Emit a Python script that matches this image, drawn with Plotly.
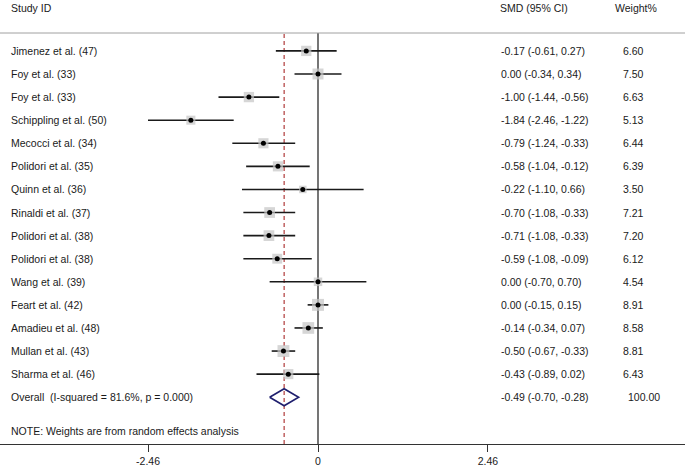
import plotly.graph_objects as go

studies = ["Jimenez et al. (47)", "Foy et al. (33)", "Foy et al. (33)", "Schippling et al. (50)",
           "Mecocci et al. (34)", "Polidori et al. (35)", "Quinn et al. (36)", "Rinaldi et al. (37)",
           "Polidori et al. (38)", "Polidori et al. (38)", "Wang et al. (39)", "Feart et al. (42)",
           "Amadieu et al. (48)", "Mullan et al. (43)", "Sharma et al. (46)"]
smd = [-0.17, 0.00, -1.00, -1.84, -0.79, -0.58, -0.22, -0.70, -0.71, -0.59, 0.00, 0.00, -0.14, -0.50, -0.43]
lo = [-0.61, -0.34, -1.44, -2.46, -1.24, -1.04, -1.10, -1.08, -1.08, -1.08, -0.70, -0.15, -0.34, -0.67, -0.89]
hi = [0.27, 0.34, -0.56, -1.22, -0.33, -0.12, 0.66, -0.33, -0.33, -0.09, 0.70, 0.15, 0.07, -0.33, 0.02]
weights = [6.60, 7.50, 6.63, 5.13, 6.44, 6.39, 3.50, 7.21, 7.20, 6.12, 4.54, 8.91, 8.58, 8.81, 6.43]

overall_label = "Overall  (I-squared = 81.6%, p = 0.000)"
overall_smd, overall_lo, overall_hi, overall_w = -0.49, -0.70, -0.28, 100.00
note = "NOTE: Weights are from random effects analysis"
tick_vals = [-2.46, 0, 2.46]
tick_text = ["-2.46", "0", "2.46"]

W, H = 685, 467
x0_px, px_per_unit = 318, 69.1
row0_px, row_h = 51, 23.2
top_px, axis_px = 33, 446

xmin = -x0_px / px_per_unit
xmax = (W - x0_px) / px_per_unit
ytop = (top_px - row0_px) / row_h
ybot = (axis_px - row0_px) / row_h

FONT = "Liberation Sans, Arial, sans-serif"
FS = 10.5

fig = go.Figure()
rows = list(range(len(studies)))

# CI lines
for i in rows:
    fig.add_trace(go.Scatter(x=[lo[i], hi[i]], y=[i, i], mode="lines",
                             line=dict(color="#1a1a1a", width=1.6), hoverinfo="skip", showlegend=False))
# weight squares
fig.add_trace(go.Scatter(x=smd, y=rows, mode="markers",
                         marker=dict(symbol="square", color="#c4c4c4",
                                     size=[4.0 * w ** 0.5 for w in weights], line=dict(width=0)),
                         hoverinfo="skip", showlegend=False))
# point estimates
fig.add_trace(go.Scatter(x=smd, y=rows, mode="markers",
                         marker=dict(symbol="circle", color="black", size=5),
                         hoverinfo="skip", showlegend=False))
# overall diamond
orow = len(studies)
fig.add_trace(go.Scatter(x=[overall_lo, overall_smd, overall_hi, overall_smd, overall_lo],
                         y=[orow, orow - 0.37, orow, orow + 0.37, orow], mode="lines",
                         line=dict(color="#1f1f6e", width=1.6), hoverinfo="skip", showlegend=False))

shapes = [
    dict(type="line", xref="x", yref="paper", x0=0, x1=0, y0=0, y1=1,
         line=dict(color="#1a1a1a", width=1.2), layer="below"),
    dict(type="line", xref="x", yref="paper", x0=overall_smd, x1=overall_smd, y0=0, y1=1,
         line=dict(color="#b03a3a", width=1.2, dash="4px,3px"), layer="below"),
    dict(type="line", xref="paper", yref="paper", x0=0, x1=1, y0=1, y1=1,
         line=dict(color="#a0a0a0", width=1)),
]

ann = []
def txt(x_px, y, s, yref="y", xanchor="left"):
    ann.append(dict(x=x_px / W, xref="paper", y=y, yref=yref, text=s, showarrow=False,
                    xanchor=xanchor, yanchor="middle", font=dict(family=FONT, size=FS, color="#1a1a1a")))

hdr_y = (axis_px - 8) / (axis_px - top_px)
txt(9, hdr_y, "Study ID", yref="paper")
txt(498, hdr_y, "SMD (95% CI)", yref="paper")
txt(613, hdr_y, "Weight%", yref="paper")
for i in rows:
    txt(9, i, studies[i])
    txt(499, i, f"{smd[i]:.2f} ({lo[i]:.2f}, {hi[i]:.2f})")
    txt(621, i, f"{weights[i]:.2f}")
txt(9, orow, overall_label)
txt(499, orow, f"{overall_smd:.2f} ({overall_lo:.2f}, {overall_hi:.2f})")
txt(626, orow, f"{overall_w:.2f}")
txt(9, (433 - row0_px) / row_h, note)

fig.update_layout(
    width=W, height=H, margin=dict(l=0, r=0, t=top_px, b=H - axis_px),
    paper_bgcolor="white", plot_bgcolor="white",
    xaxis=dict(range=[xmin, xmax], tickvals=tick_vals, ticktext=tick_text, showgrid=False,
               zeroline=False, showline=True, linecolor="#333333", linewidth=1,
               ticks="outside", ticklen=7, tickcolor="#333333",
               tickfont=dict(family=FONT, size=FS, color="#1a1a1a"), fixedrange=True),
    yaxis=dict(range=[ybot, ytop], visible=False, showgrid=False, zeroline=False, fixedrange=True),
    shapes=shapes, annotations=ann, showlegend=False,
)

fig.write_html("out.html", config={"displayModeBar": False},
               post_script="document.body.style.margin='0';document.body.style.overflow='hidden';")
